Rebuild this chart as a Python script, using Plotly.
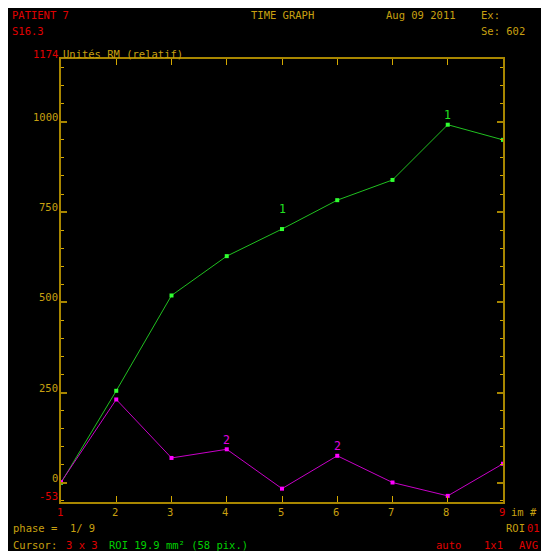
import plotly.graph_objects as go

# ---- data ----
frames = [1, 2, 3, 4, 5, 6, 7, 8, 9]
roi1 = [0, 255, 519, 628, 703, 783, 839, 992, 950]
roi2 = [2, 231, 69, 93, -16, 75, 1, -36, 53]
roi1_label_frames = [5, 8]
roi2_label_frames = [4, 6]
y_ticks = [0, 250, 500, 750, 1000]
y_min, y_max = -53, 1174
x_tick_labels = ["1", "2", "3", "4", "5", "6", "7", "8", "9"]

OFF = 8                      # page body margin
W, H = 541, 543              # figure size
L, R, T, B = 61, 503, 59, 502  # plot area, in page pixels

GOLD = "#c8a010"
AXIS = "#a88600"
RED = "#e00000"
GREEN = "#00d000"
MAG = "#e000e0"
FONT = "DejaVu Sans Mono"
FS = 10.5


def px(x):
    return (x - L) / (R - L)


def py(y):
    return (B - y) / (B - T)


fig = go.Figure()
fig.add_trace(go.Scatter(x=frames, y=roi1, mode="lines+markers",
                         line=dict(color="#20c020", width=1),
                         marker=dict(symbol="square", size=4, color="#30ff30"),
                         cliponaxis=False, showlegend=False))
fig.add_trace(go.Scatter(x=frames, y=roi2, mode="lines+markers",
                         line=dict(color="#c800c8", width=1),
                         marker=dict(symbol="square", size=4, color="#ff00ff"),
                         cliponaxis=False, showlegend=False))

ann = []


def txt(x, y, s, color, anchor="left"):
    ann.append(dict(x=px(x), y=py(y), xref="paper", yref="paper", text=s,
                    showarrow=False, xanchor=anchor, yanchor="middle",
                    font=dict(family=FONT, size=FS, color=color)))


# header
txt(10, 15, "PATIENT 7", RED)
txt(10, 31, "S16.3", RED)
txt(249, 15, "TIME GRAPH", GOLD)
txt(384, 15, "Aug 09 2011", GOLD)
txt(479, 15, "Ex:", GOLD)
txt(479, 31, "Se: 602", GOLD)

# axis titles / extreme labels
txt(60, 54, "1174", RED, "right")
txt(61, 54, "Unités RM (relatif)", GOLD)
txt(60, 496, "-53", RED, "right")
txt(509, 512, "im #", GOLD)

# y tick labels
for v in y_ticks:
    ann.append(dict(x=px(60), y=v, xref="paper", yref="y", text=str(v),
                    showarrow=False, xanchor="right", yanchor="middle", yshift=5,
                    font=dict(family=FONT, size=FS, color=GOLD)))

# x tick labels
for i, (f, lab) in enumerate(zip(frames, x_tick_labels)):
    col = RED if i in (0, len(frames) - 1) else GOLD
    ann.append(dict(x=f, y=py(512), xref="x", yref="paper", text=lab,
                    showarrow=False, xanchor="center", yanchor="middle", xshift=-1.5,
                    font=dict(family=FONT, size=FS, color=col)))

# series labels
for f, sh in zip(roi1_label_frames, [20, 10]):
    ann.append(dict(x=f, y=roi1[frames.index(f)], xref="x", yref="y", text="1",
                    showarrow=False, yanchor="middle", yshift=sh,
                    font=dict(family=FONT, size=FS + 1, color="#20e020")))
for f, sh in zip(roi2_label_frames, [9, 10]):
    ann.append(dict(x=f, y=roi2[frames.index(f)], xref="x", yref="y", text="2",
                    showarrow=False, yanchor="middle", yshift=sh,
                    font=dict(family=FONT, size=FS + 1, color=MAG)))

# footer
txt(11, 528, "phase =  1/ 9", GOLD)
txt(504, 528, "ROI", GOLD)
txt(525, 528, "01", RED)
txt(11, 545, "Cursor:", GOLD)
txt(64, 545, "3 x 3", RED)
txt(107, 545, "ROI 19.9 mm² (58 pix.)", GREEN)
txt(434, 545, "auto", RED)
txt(482, 545, "1x1", RED)
txt(517, 545, "AVG", RED)

fig.update_layout(
    width=W, height=H,
    margin=dict(l=L - OFF, r=W - (R - OFF), t=T - OFF, b=H - (B - OFF), pad=0),
    paper_bgcolor="black",
    plot_bgcolor="black",
    annotations=ann,
    xaxis=dict(range=[1, 9], showgrid=False, zeroline=False, showticklabels=False,
               showline=True, linecolor=AXIS, linewidth=2, mirror="ticks",
               ticks="inside", ticklen=6, tickcolor="#d4a800", tickwidth=1,
               tickvals=frames),
    yaxis=dict(range=[y_min, y_max], showgrid=False, zeroline=False, showticklabels=False,
               showline=True, linecolor=AXIS, linewidth=2, mirror="ticks",
               ticks="inside", ticklen=6, tickcolor=AXIS, tickwidth=2,
               tickvals=y_ticks,
               minor=dict(dtick=50, tick0=0, ticks="inside", ticklen=3,
                          tickcolor="#d4a800", tickwidth=1)),
)

fig.write_html("out.html")
